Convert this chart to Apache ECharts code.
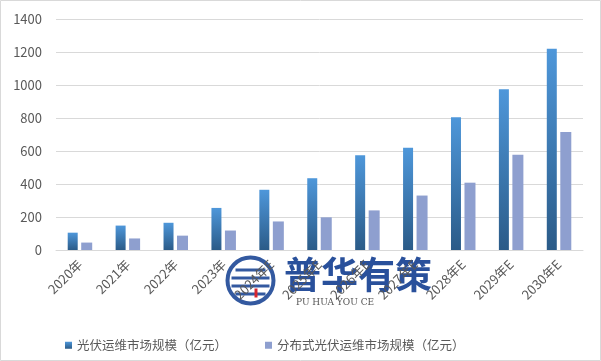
<!DOCTYPE html>
<html><head><meta charset="utf-8">
<script src="https://cdn.jsdelivr.net/npm/echarts@6/dist/echarts.min.js"></script>
<style>html,body{margin:0;padding:0;background:#fff}#c{width:601px;height:361px}</style>
</head><body><div id="c"></div>
<script>
const categories = ['2020年','2021年','2022年','2023年','2024年E','2025年E','2026年E','2027年E','2028年E','2029年E','2030年E'];
const seriesNames = ['光伏运维市场规模（亿元）','分布式光伏运维市场规模（亿元）'];
const totalValues = [105,148,165,255,365,435,575,620,805,975,1220];
const distValues = [45,70,87,118,173,198,240,330,408,578,715];
const yTicks = {min:0,max:1400,interval:200};

const chart = echarts.init(document.getElementById('c'), null, {renderer:'canvas'});
const font = '"Noto Sans CJK SC","Microsoft YaHei",sans-serif';
chart.setOption({
  animation:false,
  textStyle:{fontFamily:font},
  grid:{left:56,right:18,top:19,bottom:111},
  legend:{
    left:60, top:334, itemWidth:7, itemHeight:7, itemGap:38, icon:'rect',
    textStyle:{fontSize:12.5,color:'#595959',fontFamily:font},
    data:seriesNames
  },
  xAxis:{
    type:'category', data:categories, z:5,
    axisLine:{lineStyle:{color:'#d9d9d9'}},
    axisTick:{show:false},
    axisLabel:{rotate:45,fontSize:13,color:'#595959',margin:12,interval:0}
  },
  yAxis:{
    type:'value', min:yTicks.min, max:yTicks.max, interval:yTicks.interval,
    axisLine:{show:false}, axisTick:{show:false},
    splitLine:{lineStyle:{color:'#d9d9d9'}},
    axisLabel:{fontSize:13,color:'#595959',margin:14,formatter:v=>String(v)}
  },
  series:[
    {name:seriesNames[0], type:'bar', data:totalValues, barWidth:10, barGap:'35%',
     itemStyle:{color:new echarts.graphic.LinearGradient(0,0,0,1,[{offset:0,color:'#4e97da'},{offset:1,color:'#2b5b88'}])}},
    {name:seriesNames[1], type:'bar', data:distValues, barWidth:11,
     itemStyle:{color:'#8e9fcf'}}
  ],
  graphic:[
    {type:'rect', shape:{x:0.5,y:0.5,width:600,height:360}, style:{fill:'none',stroke:'#d9d9d9',lineWidth:1}, z:-10},
    {type:'group', left:225, top:255, z:1, children:[
      {type:'circle', shape:{cx:23,cy:26,r:23}, style:{fill:'none',stroke:'#1d4796',lineWidth:4,opacity:0.9}},
      {type:'rect', shape:{x:8,y:14,width:30,height:3}, style:{fill:'#1d4796',opacity:0.9}},
      {type:'rect', shape:{x:4,y:22,width:38,height:3}, style:{fill:'#1d4796',opacity:0.9}},
      {type:'rect', shape:{x:4,y:30,width:38,height:3}, style:{fill:'#1d4796',opacity:0.9}},
      {type:'rect', shape:{x:8,y:38,width:30,height:3}, style:{fill:'#1d4796',opacity:0.9}},
      {type:'rect', shape:{x:27,y:34,width:3,height:9}, style:{fill:'#d8262e'}}
    ]},
    {type:'text', left:284, top:256, z:1, style:{text:'普华有策', fontSize:37, fontWeight:'bold', fill:'#1d4796', fontFamily:font, opacity:0.95}},
    {type:'text', left:296, top:298, z:1, style:{text:'PU HUA YOU CE', fontSize:9, fill:'#555', fontFamily:'"DejaVu Serif",serif'}}
  ]
});
</script></body></html>
